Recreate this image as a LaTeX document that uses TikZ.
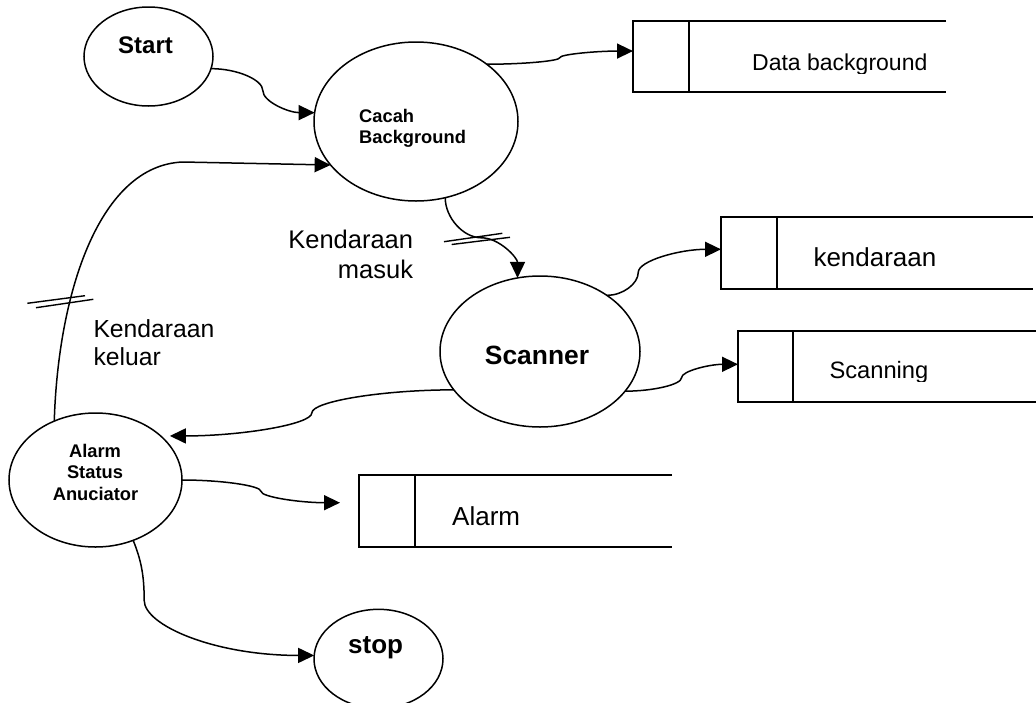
\documentclass[tikz,border=0pt]{standalone}
\usepackage{fontspec}
\setmainfont{Liberation Sans}
\usetikzlibrary{shapes.geometric,arrows.meta,calc}

\newcommand{\fsz}[1]{\fontsize{#1}{#1}\selectfont}

% curved connector: leaves horizontally, turns vertical at the split point, arrives horizontally
\newcommand{\curveH}[3][0.5]{%
  \draw[flow] let \p1=(#2), \p2=(#3), \p3=($(\p2)-(\p1)$),
      \p4=($(\p1)+(#1*\x3,0.5*\y3)$) in
    (\p1) .. controls +(0.5*#1*\x3,0pt) and +(0pt,-0.25*\y3) .. (\p4)
          .. controls +(0pt,0.25*\y3) and +(-0.5*\x3+0.5*#1*\x3,0pt) .. (\p2);}

% curved connector: leaves vertically, horizontal at the middle, arrives vertically
\newcommand{\curveV}[2]{%
  \draw[flow] let \p1=(#1), \p2=(#2), \p3=($(\p2)-(\p1)$),
      \p4=($(\p1)!0.5!(\p2)$) in
    (\p1) .. controls +(0pt,0.25*\y3) and +(-0.25*\x3,0pt) .. (\p4)
          .. controls +(0.25*\x3,0pt) and +(0pt,-0.25*\y3) .. (\p2);}

\tikzset{
  proc/.style={ellipse, draw, line width=1.5pt, inner sep=0pt, outer sep=0pt},
  store/.style={rectangle, inner sep=0pt, outer sep=0pt, anchor=north west},
  storeline/.style={line width=1.7pt},
  flow/.style={line width=1.5pt, -{Triangle[length=16pt,width=15pt]}},
  tick/.style={line width=1.4pt},
  txt/.style={inner sep=0pt, anchor=base},
  txtl/.style={inner sep=0pt, anchor=base west},
  txtr/.style={inner sep=0pt, anchor=base east},
}

\begin{document}
\begin{tikzpicture}[x=1pt,y=-1pt]
\fill[white] (0,0) rectangle (1036,702);
\useasboundingbox (0,0) rectangle (1036,702);

% processes
\node[proc, minimum width=129pt, minimum height=99pt]  (start)   at (148.5,56.5) {};
\node[proc, minimum width=204pt, minimum height=159pt] (cacah)   at (416,121.5) {};
\node[proc, minimum width=200pt, minimum height=151pt] (scanner) at (540,351.5) {};
\node[proc, minimum width=173pt, minimum height=134pt] (alarm)   at (95.5,480) {};
\node[proc, minimum width=129pt, minimum height=99pt]  (stop)    at (378.5,658.8) {};

\node[txt,  font=\fsz{24}\bfseries]   (start-t)  at (145.5,53.3) {Start};
\node[txtl, font=\fsz{18.3}\bfseries] (cacah-t1) at (359,122.3) {Cacah};
\node[txtl, font=\fsz{18.3}\bfseries] (cacah-t2) at (359,143.3) {Background};
\node[txt,  font=\fsz{26.4}\bfseries] (scanner-t) at (537,364) {Scanner};
\node[txt,  font=\fsz{18.3}\bfseries] (alarm-t1) at (95,457.3) {Alarm};
\node[txt,  font=\fsz{18.3}\bfseries] (alarm-t2) at (95,478.7) {Status};
\node[txt,  font=\fsz{18.3}\bfseries] (alarm-t3) at (95.5,500) {Anuciator};
\node[txt,  font=\fsz{26}\bfseries]   (stop-t)   at (375.6,653) {stop};

% data stores
\node[store, minimum width=313pt, minimum height=71.3pt] (ds) at (633,20.7) {};
\node[store, minimum width=312pt, minimum height=72pt]   (ks) at (721,217) {};
\node[store, minimum width=300pt, minimum height=71pt]   (ss) at (738,331) {};
\node[store, minimum width=313pt, minimum height=72pt]   (as) at (359,475) {};
\foreach \s/\w in {ds/56, ks/56, ss/55, as/56}{
  \draw[storeline] (\s.north east) -- (\s.north west) -- (\s.south west) -- (\s.south east);
  \draw[storeline] ([xshift=\w pt]\s.north west) -- ([xshift=\w pt]\s.south west);
}

\begin{scope}
  \clip (740,30) rectangle (946,73);
  \node[txtl, font=\fsz{23}] (ds-t) at (752,70.7) {Data background};
\end{scope}
\node[txtl, font=\fsz{26}] (ks-t) at (813.3,266.7) {kendaraan};
\begin{scope}
  \clip (800,340) rectangle (1036,381);
  \node[txtl, font=\fsz{23.7}] (ss-t) at (829.3,378.5) {Scanning};
\end{scope}
\node[txtl, font=\fsz{26}] (as-t) at (452,525) {Alarm};

% flow labels
\node[txtr, font=\fsz{25.5}] (in-t1)  at (413.3,248.3) {Kendaraan};
\node[txtr, font=\fsz{25.5}] (in-t2)  at (413.3,278.3) {masuk};
\node[txtl, font=\fsz{24.7}] (out-t1) at (93.3,337.3) {Kendaraan};
\node[txtl, font=\fsz{24.7}] (out-t2) at (93.3,365) {keluar};

% flows
\curveH{start.-11}{cacah.175}
\curveH{cacah.39}{[yshift=5.3pt]ds.west}
\curveV{cacah.-69}{scanner.107}
\curveH[0.275]{scanner.40}{[yshift=3.7pt]ks.west}
\curveH{scanner.-25}{[yshift=2.2pt]ss.west}
\curveH{scanner.204}{[shift={(6pt,3pt)}]alarm.31}
\curveH{alarm.east}{[shift={(-19pt,8.3pt)}]as.west}
\draw[flow] (alarm.125) .. controls +(4,-130) and +(-83,3) .. ++(128.7,-259.1)
  -- (cacah.207);
\draw[flow] (alarm.-58) .. controls +(8,20) and +(0,-25) .. ++(11,60)
  .. controls +(0,25) and +(-100,0) .. (stop.177);

% double bars on the vehicle flows
\draw[tick] (444,241.7) -- (502.3,233.3);
\draw[tick] (451.7,244.5) -- (510,237.3);
\draw[tick] (27.3,303.3) -- (85,295.7);
\draw[tick] (36,307.7) -- (93.3,299.3);
\end{tikzpicture}
\end{document}
